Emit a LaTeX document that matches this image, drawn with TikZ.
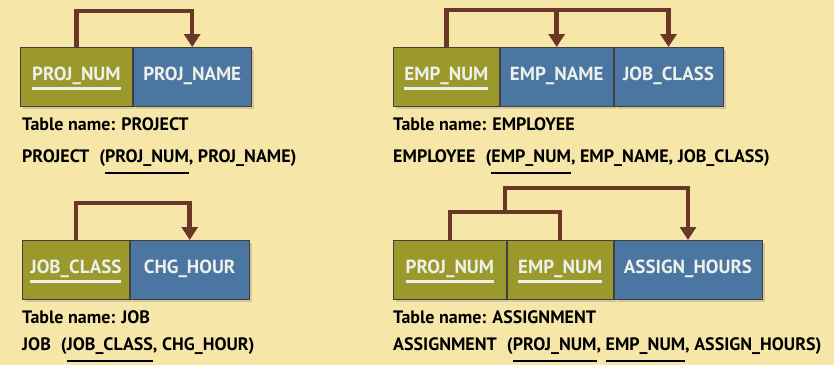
\documentclass[tikz,border=0pt]{standalone}
\usepackage{fontspec}
\setmainfont{PT Sans}
\usetikzlibrary{arrows.meta, positioning, calc, shadows}

\definecolor{pagebg}{HTML}{F6E7A8}
\definecolor{keyolive}{HTML}{9B992C}
\definecolor{attrblue}{HTML}{4B76A2}
\definecolor{depbrown}{HTML}{6B3828}
\definecolor{fieldtext}{HTML}{EEF0EA}

% key attribute underline: [drop below baseline]{text}
\newcommand{\keyul}[2][9.3pt]{\setbox0\hbox{#2}\rlap{\rule[-#1]{\wd0}{2.6pt}}\box0}
\newcommand{\fieldfont}{\fontsize{19pt}{22pt}\selectfont\bfseries}
\newcommand{\lblfont}{\fontsize{18pt}{21pt}\selectfont\bfseries}
\newcommand{\gap}{\hspace{10pt}}

\begin{document}
\begin{tikzpicture}[x=1pt, y=-1pt,
    >={Triangle[width=16pt,length=13pt]},
    field/.style={draw=black!75, line width=0.8pt, minimum height=59pt,
                  inner sep=0pt, text height=13pt, text depth=6pt,
                  font=\fieldfont, text=fieldtext,
                  drop shadow={shadow xshift=2.5pt, shadow yshift=-2.5pt, opacity=0.3}},
    pkey/.style={field, fill=keyolive},
    attr/.style={field, fill=attrblue},
    link/.style={draw=depbrown, line width=4.5pt},
    dep/.style={link, ->},
    tname/.style={anchor=base west, inner sep=0pt, font=\lblfont}
  ]
  \fill[pagebg] (0,0) rectangle (834,365);

  % PROJECT
  \node[pkey, minimum width=112pt, anchor=north west] (pnum) at (20,47) {\keyul{PROJ\_NUM}};
  \node[attr, minimum width=118pt, right=0pt of pnum] (pname) {PROJ\_NAME};
  \draw[dep] (pnum.north) -- ++(0,-36) -| (pname.north);
  \node[tname] (pcap) at (22,130) {Table name: PROJECT};
  \node[tname] (pform) at (22,162) {PROJECT\gap(\keyul[12.3pt]{PROJ\_NUM}, PROJ\_NAME)};

  % EMPLOYEE
  \node[pkey, minimum width=106pt, anchor=north west] (enum) at (393,47) {\keyul{EMP\_NUM}};
  \node[attr, minimum width=113pt, right=0pt of enum] (ename) {EMP\_NAME};
  \node[attr, minimum width=109pt, right=0pt of ename] (eclass) {JOB\_CLASS};
  \draw[dep] (enum.north) -- ++(0,-37) coordinate (etop) -| (eclass.north);
  \draw[dep] (etop) -| (ename.north);
  \node[tname] (ecap) at (393,130) {Table name: EMPLOYEE};
  \node[tname] (eform) at (393,162) {EMPLOYEE\gap(\keyul[12.3pt]{EMP\_NUM}, EMP\_NAME, JOB\_CLASS)};

  % JOB
  \node[pkey, minimum width=107pt, anchor=north west] (jclass) at (22,240) {\keyul{JOB\_CLASS}};
  \node[attr, minimum width=119pt, right=0pt of jclass] (jchg) {CHG\_HOUR};
  \draw[dep] (jclass.north) -- ++(0,-37) -| (jchg.north);
  \node[tname] (jcap) at (22,323) {Table name: JOB};
  \node[tname] (jform) at (22,350) {JOB\gap(\keyul[12.3pt]{JOB\_CLASS}, CHG\_HOUR)};

  % ASSIGNMENT
  \node[pkey, minimum width=113pt, anchor=north west] (apnum) at (393,240) {\keyul{PROJ\_NUM}};
  \node[pkey, minimum width=106pt, right=0pt of apnum] (aenum) {\keyul{EMP\_NUM}};
  \node[attr, minimum width=148pt, right=0pt of aenum] (ahours) {ASSIGN\_HOURS};
  \draw[link] (apnum.north) -- ++(0,-28) -| (aenum.north);
  \draw[dep] ($(apnum.north)!0.5!(aenum.north)+(0,-28)$) -- ++(0,-24) -| (ahours.north);
  \node[tname] (acap) at (393,323) {Table name: ASSIGNMENT};
  \node[tname] (aform) at (393,350) {ASSIGNMENT\gap(\keyul[12.3pt]{PROJ\_NUM}, \keyul[12.3pt]{EMP\_NUM}, ASSIGN\_HOURS)};
\end{tikzpicture}
\end{document}
